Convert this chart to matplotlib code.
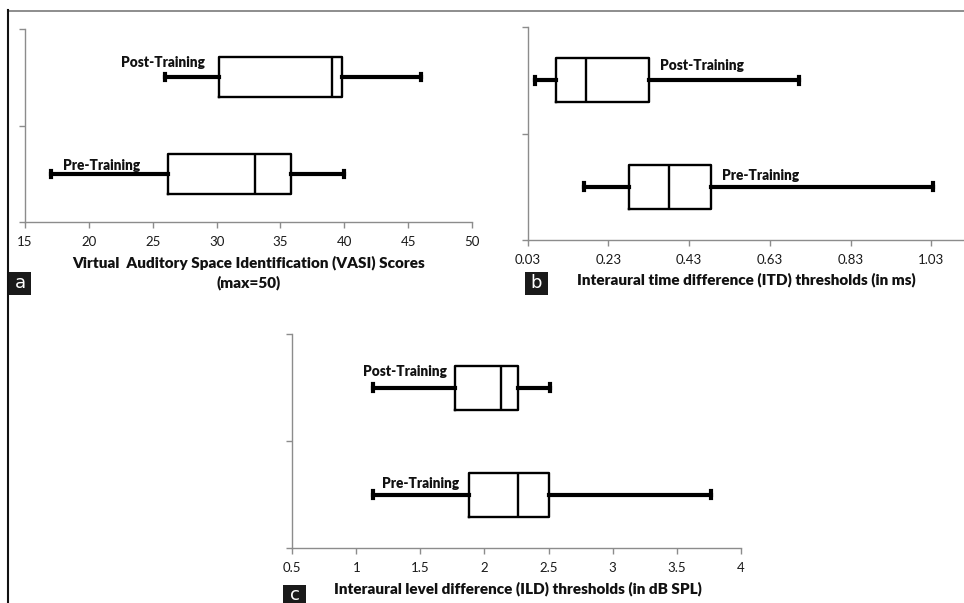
import matplotlib
matplotlib.use("Agg")
import matplotlib.pyplot as plt
from matplotlib.patches import Rectangle
from matplotlib.lines import Line2D

plt.rcParams['font.family'] = ['Lato', 'DejaVu Sans']

# ---- data ----
groups = ["Pre-Training", "Post-Training"]

# panel a: VASI scores (whisker low, q1, median, q3, whisker high)
vasi_pre = [17, 26.2, 33.0, 35.8, 40]
vasi_post = [26, 30.2, 39.0, 39.8, 46]
vasi_ticks = [15, 20, 25, 30, 35, 40, 45, 50]

# panel b: ITD thresholds (ms)
itd_pre = [0.17, 0.281, 0.381, 0.483, 1.034]
itd_post = [0.048, 0.100, 0.175, 0.330, 0.702]
itd_ticks = [0.03, 0.23, 0.43, 0.63, 0.83, 1.03]
itd_tick_labels = ["0.03", "0.23", "0.43", "0.63", "0.83", "1.03"]

# panel c: ILD thresholds (dB SPL)
ild_pre = [1.13, 1.88, 2.26, 2.50, 3.77]
ild_post = [1.13, 1.77, 2.13, 2.26, 2.51]
ild_ticks = [0.5, 1, 1.5, 2, 2.5, 3, 3.5, 4]
ild_tick_labels = ["0.5", "1", "1.5", "2", "2.5", "3", "3.5", "4"]

W, H = 964, 603
fig = plt.figure(figsize=(W / 100, H / 100), dpi=100)


def px_rect(x0, y0, x1, y1):
    return [x0 / W, 1 - y1 / H, (x1 - x0) / W, (y1 - y0) / H]


def stats(v, label):
    return dict(whislo=v[0], q1=v[1], med=v[2], q3=v[3], whishi=v[4],
                fliers=[], label=label)


def panel(rect, pre, post, xlim, ticks, ticklabels, labels_pos):
    ax = fig.add_axes(rect)
    bs = [stats(pre, groups[0]), stats(post, groups[1])]
    ax.bxp(bs, positions=[0.5, 1.5], widths=0.41, vert=False,
           showfliers=False, capwidths=0.065,
           boxprops=dict(color='black', linewidth=1.7),
           medianprops=dict(color='black', linewidth=1.7),
           whiskerprops=dict(color='black', linewidth=3.0),
           capprops=dict(color='black', linewidth=3.0))
    ax.set_ylim(0, 2)
    ax.set_xlim(*xlim)
    ax.set_yticks([0, 1, 2])
    ax.set_yticklabels([])
    ax.set_xticks(ticks)
    ax.set_xticklabels(ticklabels)
    for s in ['top', 'right']:
        ax.spines[s].set_visible(False)
    for s in ['left', 'bottom']:
        ax.spines[s].set_color('#8c8c8c')
        ax.spines[s].set_linewidth(1.0)
    ax.tick_params(axis='both', colors='#8c8c8c', length=4, width=1.0)
    ax.tick_params(axis='x', labelcolor='#1a1a1a', labelsize=9.5, pad=6)
    ax.patch.set_alpha(0)
    for (txt, x, y, ha) in labels_pos:
        ax.text(x, y, txt, ha=ha, va='center', fontsize=9.8,
                fontweight='heavy', color='#111111')
    return ax


# panel a
panel(px_rect(25, 29, 472, 222), vasi_pre, vasi_post, (15, 50),
      vasi_ticks, [str(t) for t in vasi_ticks],
      [("Post-Training", 29.1, 1.65, 'right'),
       ("Pre-Training", 24.0, 0.59, 'right')])

# panel b
panel(px_rect(527.7, 27, 964, 240), itd_pre, itd_post, (0.03, 1.111),
      itd_ticks, itd_tick_labels,
      [("Post-Training", 0.358, 1.643, 'left'),
       ("Pre-Training", 0.511, 0.601, 'left')])

# panel c
panel(px_rect(292.3, 334.3, 740.7, 548.3), ild_pre, ild_post, (0.5, 4),
      ild_ticks, ild_tick_labels,
      [("Post-Training", 1.054, 1.65, 'left'),
       ("Pre-Training", 1.198, 0.601, 'left')])


def ftext(x, y, s, **kw):
    fig.text(x / W, 1 - y / H, s, ha='center', va='center', **kw)


tkw = dict(fontsize=11, fontweight='heavy', color='#111111')
ftext(249, 262.5, "Virtual  Auditory Space Identification (VASI) Scores", **tkw)
ftext(249, 283, "(max=50)", **tkw)
ftext(746, 280, "Interaural time difference (ITD) thresholds (in ms)", **tkw)
ftext(517.7, 588.3, "Interaural level difference (ILD) thresholds (in dB SPL)", **tkw)

# panel letters
for (x0, y0, x1, y1, s) in [(9, 272, 31, 295, "a"), (525, 272, 548, 295, "b"),
                             (283, 585, 306, 606, "c")]:
    fig.add_artist(Rectangle((x0 / W, 1 - y1 / H), (x1 - x0) / W, (y1 - y0) / H,
                             transform=fig.transFigure, facecolor='#1a1a1a',
                             edgecolor='none'))
    fig.text((x0 + x1) / 2 / W, 1 - (y0 + y1) / 2 / H, s, ha='center',
             va='center', color='white', fontsize=13, family='DejaVu Sans')

# frame lines
fig.add_artist(Line2D([8 / W, 1], [1 - 10.5 / H, 1 - 10.5 / H],
                      transform=fig.transFigure, color='#7a7a7a', lw=1.2))
fig.add_artist(Line2D([8 / W, 8 / W], [1 - 10 / H, 0],
                      transform=fig.transFigure, color='#111111', lw=1.5))

fig.savefig("out.png", dpi=100)
